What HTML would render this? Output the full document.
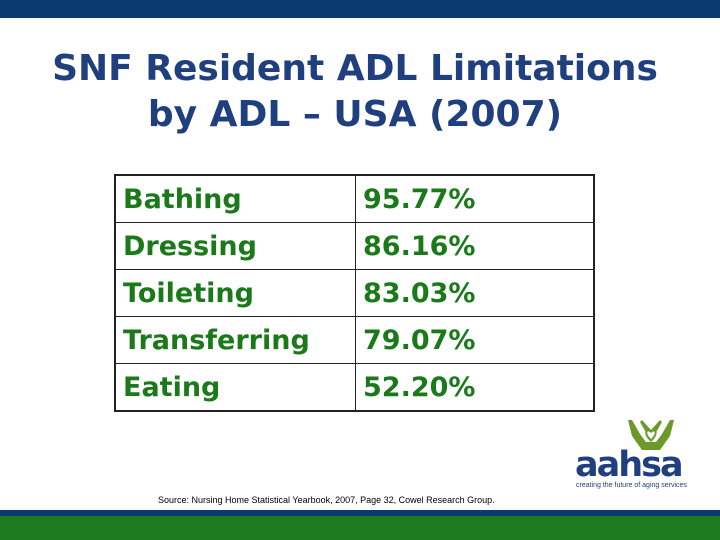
<!DOCTYPE html>
<html><head><meta charset="utf-8"><style>
body{margin:0;width:720px;height:540px;position:relative;background:#fff;overflow:hidden;font-family:"DejaVu Sans","Liberation Sans",sans-serif}
.abs{position:absolute}
h1{position:absolute;left:0;top:46px;width:710px;margin:0;text-align:center;font-size:36px;line-height:46px;font-weight:bold;color:#1f3f7f}
table{position:absolute;left:114px;top:174px;border-collapse:collapse;width:481px}
td{border:1px solid #222;height:46px;padding:0 0 0 7px;font-size:27px;font-weight:bold;color:#1a7a1a;vertical-align:middle}
td.l{width:232px}
</style></head><body>
<div class="abs" style="left:0;top:0;width:720px;height:18px;background:#0b3a6e"></div>
<h1>SNF Resident ADL Limitations<br>by ADL – USA (2007)</h1>
<table style="border:2px solid #222">
<tr><td class="l">Bathing</td><td>95.77%</td></tr>
<tr><td class="l">Dressing</td><td>86.16%</td></tr>
<tr><td class="l">Toileting</td><td>83.03%</td></tr>
<tr><td class="l">Transferring</td><td>79.07%</td></tr>
<tr><td class="l">Eating</td><td>52.20%</td></tr>
</table>
<svg class="abs" style="left:626px;top:418px" width="50" height="34" viewBox="0 0 50 34">
<path d="M2 2 L6 2 L14 16 L20 24 L30 24 L36 16 L44 2 L48 2 L44 18 L34 32 L16 32 L6 18Z" fill="#6b9a2a"/>
<path d="M14 4 L22 18 L28 18 L36 4 L34 2 L25 12 L16 2Z" fill="#6b9a2a"/>
<path d="M25 24 C16 16 19 9 25 14 C31 9 34 16 25 24Z" fill="#6b9a2a"/>
<path d="M25 21 C19 15 21 11 25 15 C29 11 31 15 25 21Z" fill="#fff"/>
</svg>
<div class="abs" style="left:575px;top:448px;font-family:'DejaVu Sans',sans-serif;font-weight:bold;font-size:35px;line-height:35px;color:#1f3f7f;letter-spacing:-2px">aahsa</div>
<div class="abs" style="left:576px;top:482px;font-family:'Liberation Sans',sans-serif;font-size:7px;color:#1f3f7f">creating the future of aging services</div>
<div class="abs" style="left:158px;top:495px;font-family:'Liberation Sans',sans-serif;font-size:9px;color:#000">Source: Nursing Home Statistical Yearbook, 2007, Page 32, Cowel Research Group.</div>
<div class="abs" style="left:0;top:510px;width:720px;height:6px;background:#0b3a6e"></div>
<div class="abs" style="left:0;top:516px;width:720px;height:24px;background:#1e7a1e"></div>
</body></html>
